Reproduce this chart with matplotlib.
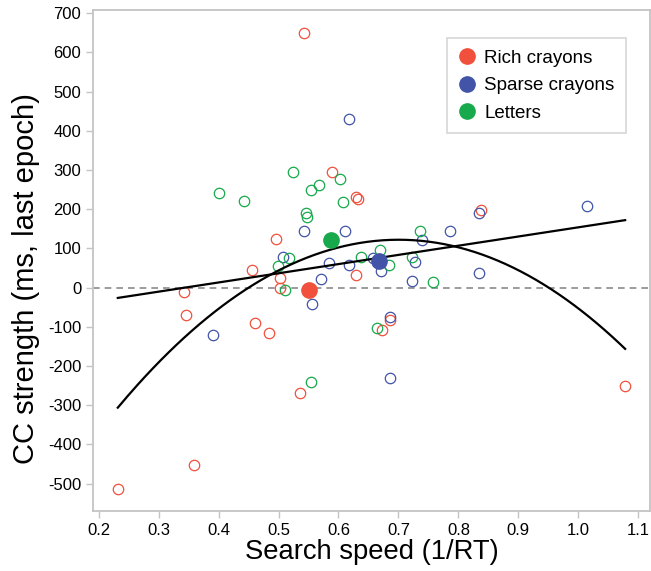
import numpy as np
import matplotlib
matplotlib.use("Agg")
import matplotlib.pyplot as plt
from matplotlib.lines import Line2D

plt.rcParams['font.family'] = ['Liberation Sans', 'DejaVu Sans']

groups = ["Rich crayons", "Sparse crayons", "Letters"]
colors = ["#f0503c", "#4154a8", "#17a94b"]

rich_x = [0.543, 0.590, 0.630, 0.632, 0.838, 0.495, 0.456, 0.6295, 0.503, 0.3417,
          0.503, 0.345, 0.4607, 0.484, 0.535, 0.359, 0.232, 0.6867, 0.672, 1.078]
rich_y = [650, 296, 230, 227, 199, 124, 44, 33, 24, -12,
          0, -71, -91, -116, -268, -453, -513, -83, -109, -250]

sparse_x = [0.617, 0.543, 0.611, 0.508, 0.5845, 0.6173, 0.571, 0.5557, 0.391, 0.834,
            1.0145, 0.7857, 0.7395, 0.7283, 0.6712, 0.8345, 0.7233, 0.6867, 0.6857, 0.6583]
sparse_y = [431, 144, 144, 79, 63, 57, 21, -43, -120, 191,
            209, 144, 122, 66, 42, 38, 18, -75, -231, 76]

letters_x = [0.5245, 0.602, 0.568, 0.554, 0.4007, 0.443, 0.6067, 0.5457, 0.548, 0.5167,
             0.638, 0.4985, 0.510, 0.555, 0.7357, 0.6695, 0.7228, 0.6845, 0.757, 0.6645]
letters_y = [294, 278, 261, 250, 242, 221, 219, 191, 181, 75,
             79, 55, -5, -241, 144, 95, 79, 57, 14, -104]

mean_x = [0.551, 0.668, 0.588]
mean_y = [-7, 67, 121]

lin_coef = [234.5, -80.8]
quad_coef = [-1952.0, 2734.4, -835.6]

xticks = [0.2, 0.3, 0.4, 0.5, 0.6, 0.7, 0.8, 0.9, 1.0, 1.1]
yticks = [-500, -400, -300, -200, -100, 0, 100, 200, 300, 400, 500, 600, 700]

fig = plt.figure(figsize=(6.51, 5.71), dpi=100)
ax = fig.add_axes([0.1429, 0.105, 0.8556, 0.8775])

ax.axhline(0, color="#8a8a8a", lw=1.2, ls=(0, (4, 3)), zorder=1)

xs = [rich_x, sparse_x, letters_x]
ys = [rich_y, sparse_y, letters_y]
for gx, gy, c in zip(xs, ys, colors):
    ax.plot(gx, gy, 'o', mfc='none', mec=c, ms=7.5, mew=0.9, zorder=3)

allx = np.array(rich_x + sparse_x + letters_x)
xx = np.linspace(allx.min(), allx.max(), 200)
ax.plot(xx, np.polyval(lin_coef, xx), color='black', lw=1.6, zorder=4)
ax.plot(xx, np.polyval(quad_coef, xx), color='black', lw=1.6, zorder=4)

for mx, my, c in zip(mean_x, mean_y, colors):
    ax.plot([mx], [my], 'o', color=c, ms=11, mec=c, zorder=5)

ax.set_xlim(0.1907, 1.1195)
ax.set_ylim(-570, 708)
ax.set_xticks(xticks)
ax.set_xticklabels([f"{t:.1f}" for t in xticks])
ax.set_yticks(yticks)
ax.set_yticklabels([str(t) for t in yticks])

for s in ax.spines.values():
    s.set_color("#c4c4c4")
    s.set_linewidth(1.3)
ax.tick_params(axis='both', direction='out', length=5, width=1, color="#c4c4c4",
               labelsize=12, labelcolor='black')

ax.set_xlabel("Search speed (1/RT)", fontsize=19.7, labelpad=1)
ax.set_ylabel("CC strength (ms, last epoch)", fontsize=21)
ax.yaxis.set_label_coords(-0.095, 0.463)

handles = [Line2D([], [], marker='o', ls='none', color=c, ms=11) for c in colors]
leg = ax.legend(handles, groups, loc='upper right', bbox_to_anchor=(0.957, 0.944),
                fontsize=13.5, frameon=True, fancybox=False, handletextpad=0.45,
                borderpad=0.62, labelspacing=0.55, handlelength=0.9, borderaxespad=0)
leg.get_frame().set_edgecolor("#cccccc")
leg.get_frame().set_linewidth(1.2)

fig.savefig("out.png", dpi=100)
